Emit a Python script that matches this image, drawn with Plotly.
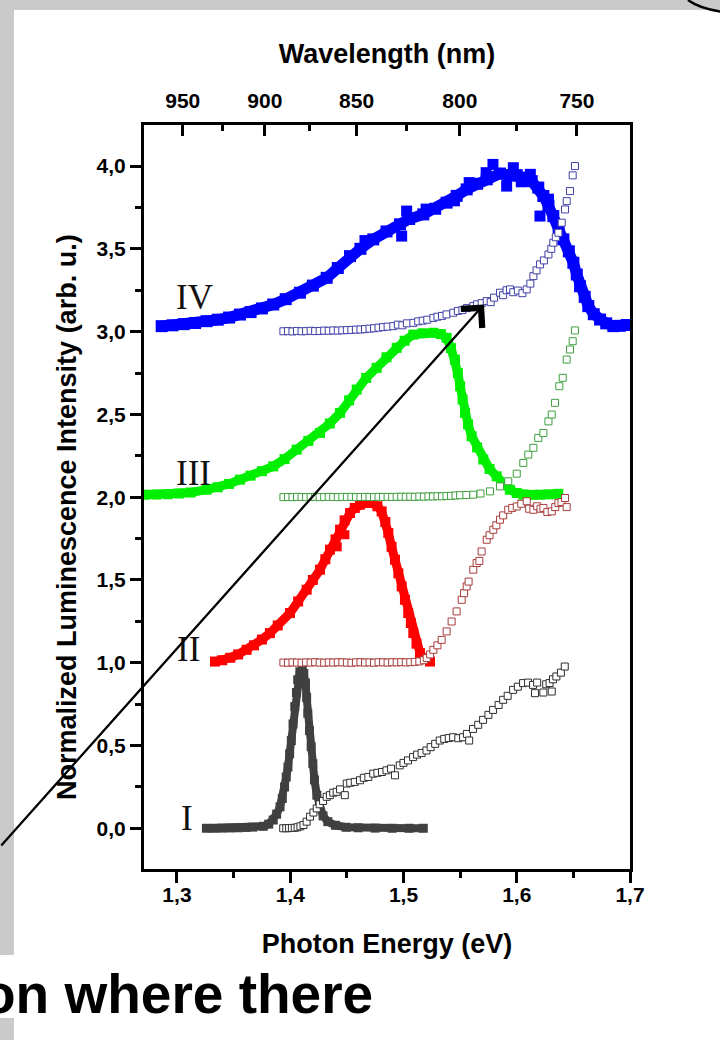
import plotly.graph_objects as go

# ---------------------------------------------------------------- data
# Photoluminescence spectra (filled squares) for samples I-IV
pl_I_E = [1.326, 1.333, 1.340, 1.347, 1.354, 1.361, 1.367, 1.3762, 1.381, 1.385, 1.388, 1.391,
          1.393, 1.395, 1.3965, 1.398, 1.3995, 1.401, 1.4025, 1.404, 1.4055, 1.4066, 1.4085,
          1.4106, 1.412, 1.4135, 1.4145, 1.4155, 1.417, 1.4185, 1.420, 1.4214, 1.4235, 1.4258,
          1.429, 1.4332, 1.440, 1.4494, 1.460, 1.475, 1.490, 1.505, 1.5175]
pl_I_Y = [0.0, 0.0, 0.001, 0.002, 0.003, 0.005, 0.007, 0.012, 0.025, 0.05, 0.085, 0.13,
          0.18, 0.25, 0.31, 0.37, 0.45, 0.53, 0.63, 0.735, 0.82, 0.897, 0.945,
          0.967, 0.935, 0.877, 0.79, 0.695, 0.59, 0.493, 0.39, 0.292, 0.20, 0.13,
          0.075, 0.04, 0.018, 0.006, 0.003, 0.001, 0.0, 0.0, 0.0]

pl_II_E = [1.3336, 1.340, 1.347, 1.354, 1.3615, 1.368, 1.375, 1.3821, 1.389, 1.3998, 1.407,
           1.4145, 1.420, 1.4263, 1.431, 1.4351, 1.440, 1.444, 1.448, 1.4528, 1.457,
           1.4616, 1.467, 1.4719, 1.477, 1.4807, 1.484, 1.4866, 1.4895, 1.4925, 1.4955,
           1.4984, 1.5013, 1.5042, 1.5065, 1.5087, 1.5115, 1.5146, 1.518, 1.5234]
pl_II_Y = [1.007, 1.015, 1.030, 1.050, 1.078, 1.105, 1.140, 1.179, 1.225, 1.300, 1.370,
           1.441, 1.500, 1.562, 1.625, 1.683, 1.745, 1.804, 1.860, 1.904, 1.935,
           1.955, 1.965, 1.965, 1.945, 1.914, 1.850, 1.784, 1.700, 1.622, 1.540,
           1.461, 1.380, 1.300, 1.240, 1.179, 1.115, 1.058, 1.025, 1.007]
# scattered points lying off the main II band
pl_II_noise_E = [1.4483, 1.4415]
pl_II_noise_Y = [1.773, 1.700]

pl_III_E = [1.2717, 1.282, 1.292, 1.302, 1.312, 1.3262, 1.336, 1.346, 1.3556, 1.365, 1.375,
            1.385, 1.395, 1.4057, 1.416, 1.4263, 1.435, 1.444, 1.452, 1.4587, 1.467, 1.4763,
            1.485, 1.494, 1.501, 1.5087, 1.517, 1.5264, 1.533, 1.5381, 1.542, 1.5455, 1.548,
            1.550, 1.5522, 1.5543, 1.557, 1.5602, 1.565, 1.5705, 1.576, 1.5823, 1.588, 1.594,
            1.600, 1.6058, 1.613, 1.6205, 1.628, 1.6367]
pl_III_Y = [2.015, 2.016, 2.018, 2.022, 2.028, 2.045, 2.060, 2.080, 2.106, 2.130, 2.157,
            2.186, 2.230, 2.287, 2.340, 2.388, 2.445, 2.509, 2.585, 2.650, 2.720, 2.781,
            2.845, 2.902, 2.945, 2.982, 2.990, 2.993, 2.985, 2.962, 2.900, 2.831, 2.750,
            2.670, 2.590, 2.509, 2.440, 2.368, 2.300, 2.227, 2.170, 2.126, 2.080, 2.045,
            2.025, 2.015, 2.014, 2.015, 2.017, 2.020]

pl_IV_E = [1.2865, 1.296, 1.306, 1.316, 1.3262, 1.336, 1.346, 1.3556, 1.365, 1.375, 1.385,
           1.396, 1.4086, 1.420, 1.4322, 1.442, 1.4528, 1.462, 1.4733, 1.485, 1.4969,
           1.505, 1.5175, 1.528, 1.5381, 1.547, 1.5558, 1.565, 1.5735, 1.5852,
           1.592, 1.600, 1.607, 1.6132, 1.619, 1.6235, 1.628, 1.6323, 1.637,
           1.6412, 1.646, 1.650, 1.653, 1.6559, 1.660, 1.6632, 1.668, 1.6736, 1.679, 1.6853,
           1.691, 1.6971]
pl_IV_Y = [3.033, 3.038, 3.045, 3.052, 3.063, 3.072, 3.085, 3.103, 3.118, 3.140, 3.164,
           3.196, 3.235, 3.278, 3.325, 3.384, 3.456, 3.500, 3.557, 3.605, 3.648,
           3.680, 3.708, 3.742, 3.779, 3.820, 3.859, 3.893, 3.920, 3.955,
           3.945, 3.945, 3.930, 3.909, 3.870, 3.819, 3.760, 3.698, 3.630,
           3.557, 3.485, 3.416, 3.345, 3.274, 3.210, 3.154, 3.105, 3.073, 3.050, 3.033,
           3.035, 3.040]
# scattered points lying off the main IV band
pl_IV_noise_E = [1.4984, 1.5028, 1.466, 1.520, 1.545, 1.558, 1.573, 1.579, 1.5911, 1.597,
                 1.604, 1.612, 1.6205, 1.628]
pl_IV_noise_Y = [3.577, 3.728, 3.550, 3.740, 3.790, 3.900, 3.960, 4.010, 3.879, 3.990,
                 3.905, 3.950, 3.698, 3.800]

# Excitation spectra (open squares) for samples I-IV
ex_I_E = [1.3938, 1.3965, 1.399, 1.4015, 1.404, 1.4065, 1.409, 1.4117, 1.4145, 1.4175, 1.4205,
          1.4234, 1.426, 1.429, 1.4322, 1.435, 1.438, 1.441, 1.444, 1.4482, 1.4499, 1.453,
          1.457, 1.4616, 1.465, 1.469, 1.4733, 1.477, 1.481, 1.485, 1.489, 1.4925, 1.4967,
          1.500, 1.504, 1.5085, 1.512, 1.516, 1.5203, 1.524, 1.528, 1.532, 1.536, 1.540,
          1.5438, 1.5484, 1.5526, 1.556, 1.558, 1.5614, 1.566, 1.5703, 1.575, 1.5791, 1.584,
          1.588, 1.592, 1.5968, 1.601, 1.6056, 1.610, 1.6144, 1.6161, 1.618, 1.6235, 1.626,
          1.629, 1.6309, 1.632, 1.635, 1.639, 1.6424]
ex_I_Y = [0.0, 0.0, 0.001, 0.002, 0.003, 0.006, 0.012, 0.020, 0.040, 0.070, 0.095,
          0.120, 0.145, 0.165, 0.190, 0.200, 0.215, 0.220, 0.235, 0.200, 0.270, 0.275,
          0.280, 0.290, 0.305, 0.310, 0.330, 0.335, 0.340, 0.350, 0.360, 0.320, 0.380,
          0.395, 0.410, 0.430, 0.445, 0.455, 0.470, 0.490, 0.510, 0.530, 0.540, 0.545,
          0.550, 0.544, 0.550, 0.570, 0.530, 0.600, 0.625, 0.655, 0.685, 0.715, 0.745,
          0.776, 0.800, 0.836, 0.855, 0.877, 0.880, 0.866, 0.816, 0.880, 0.820, 0.870,
          0.877, 0.826, 0.900, 0.917, 0.940, 0.977]

ex_II_E = [1.394, 1.398, 1.402, 1.406, 1.410, 1.414, 1.418, 1.422, 1.426, 1.430, 1.434,
           1.438, 1.442, 1.446, 1.450, 1.454, 1.458, 1.462, 1.466, 1.470, 1.474, 1.478,
           1.482, 1.486, 1.490, 1.494, 1.498, 1.502, 1.506, 1.510, 1.514, 1.518, 1.5205,
           1.5235, 1.5264, 1.530, 1.5337, 1.5381, 1.5425, 1.5469, 1.5514, 1.5535, 1.5558,
           1.5575, 1.5616, 1.5646, 1.567, 1.569, 1.5735, 1.576, 1.5793, 1.582, 1.5852,
           1.588, 1.5925, 1.596, 1.600, 1.604, 1.6088, 1.611, 1.6147, 1.618, 1.621, 1.6235,
           1.627, 1.6309, 1.634, 1.6368, 1.6395, 1.6426, 1.6441]
ex_II_Y = [1.001, 1.000, 1.002, 1.001, 1.000, 1.002, 1.001, 1.003, 1.001, 1.000, 1.002,
           1.001, 1.003, 1.002, 1.001, 1.000, 1.002, 1.003, 1.001, 1.002, 1.000, 1.003,
           1.002, 1.001, 1.003, 1.002, 1.004, 1.002, 1.003, 1.005, 1.008, 1.015, 1.028,
           1.050, 1.078, 1.105, 1.138, 1.189, 1.249, 1.310, 1.380, 1.420, 1.461,
           1.490, 1.562, 1.602, 1.615, 1.672, 1.743, 1.770, 1.803, 1.830, 1.864,
           1.890, 1.924, 1.935, 1.944, 1.960, 1.975, 1.930, 1.924, 1.945, 1.930, 1.935,
           1.910, 1.914, 1.940, 1.965, 1.970, 1.995, 1.940]

ex_III_E = [1.394, 1.398, 1.402, 1.406, 1.410, 1.414, 1.418, 1.422, 1.426, 1.430, 1.434,
            1.438, 1.442, 1.446, 1.450, 1.454, 1.458, 1.462, 1.466, 1.470, 1.474, 1.478,
            1.482, 1.486, 1.490, 1.494, 1.498, 1.502, 1.506, 1.510, 1.514, 1.518, 1.522,
            1.526, 1.530, 1.534, 1.538, 1.542, 1.546, 1.550, 1.5555, 1.5616, 1.568, 1.5764,
            1.5852, 1.5925, 1.600, 1.6058, 1.6102, 1.6147, 1.619, 1.6235, 1.628, 1.6309,
            1.6338, 1.6376, 1.6406, 1.6441, 1.647, 1.6494, 1.6514]
ex_III_Y = [2.000, 2.001, 2.000, 2.002, 2.001, 2.000, 2.001, 2.002, 2.000, 2.001, 2.002,
            2.001, 2.000, 2.002, 2.001, 2.002, 2.000, 2.001, 2.002, 2.001, 2.000, 2.002,
            2.001, 2.002, 2.001, 2.002, 2.003, 2.002, 2.003, 2.002, 2.004, 2.003, 2.005,
            2.004, 2.006, 2.005, 2.007, 2.008, 2.010, 2.012, 2.013, 2.015, 2.022, 2.035,
            2.065, 2.096, 2.142, 2.207, 2.257, 2.298, 2.358, 2.388, 2.458, 2.499,
            2.570, 2.670, 2.721, 2.831, 2.892, 2.942, 3.007]

ex_IV_E = [1.394, 1.398, 1.402, 1.406, 1.410, 1.414, 1.418, 1.422, 1.426, 1.430, 1.434,
           1.438, 1.442, 1.446, 1.450, 1.454, 1.458, 1.462, 1.466, 1.470, 1.474, 1.478,
           1.482, 1.486, 1.491, 1.495, 1.499, 1.503, 1.5087, 1.513, 1.517, 1.521, 1.5264,
           1.530, 1.534, 1.538, 1.544, 1.548, 1.552, 1.556, 1.5616, 1.565, 1.569, 1.5735,
           1.577, 1.580, 1.5852, 1.588, 1.591, 1.594, 1.597, 1.601, 1.605, 1.6088, 1.612,
           1.6147, 1.6175, 1.6206, 1.624, 1.628, 1.6305, 1.6323, 1.6345, 1.6368, 1.6397,
           1.6426, 1.6441, 1.647, 1.6494, 1.6514]
ex_IV_Y = [3.002, 3.003, 3.001, 3.004, 3.002, 3.003, 3.005, 3.003, 3.004, 3.006, 3.005,
           3.007, 3.006, 3.008, 3.009, 3.010, 3.012, 3.013, 3.015, 3.018, 3.020, 3.024,
           3.027, 3.030, 3.033, 3.042, 3.038, 3.050, 3.053, 3.062, 3.066, 3.072, 3.083,
           3.090, 3.095, 3.104, 3.114, 3.125, 3.130, 3.142, 3.154, 3.165, 3.172, 3.184,
           3.178, 3.205, 3.235, 3.220, 3.250, 3.255, 3.238, 3.248, 3.232, 3.255, 3.290,
           3.335, 3.370, 3.406, 3.430, 3.466, 3.500, 3.537, 3.570, 3.597, 3.658,
           3.738, 3.788, 3.849, 3.944, 4.000]

# Secondary (top) axis: wavelength labels in nm
wl_major = [950, 900, 850, 800, 750]
wl_minor = [925, 875, 825, 775]
HC = 1239.84  # eV*nm

sample_labels = ["I", "II", "III", "IV"]

# ---------------------------------------------------------------- styling
W, H = 720, 1040
L, R, T, B = 144, 90, 125, 171
PW, PH = W - L - R, H - T - B
X_RANGE = [1.2709, 1.7]
Y_RANGE = [-0.246, 4.248]
SANS = "Liberation Sans"
SERIF = "Liberation Serif"


def pxx(p):
    return (p - L) / PW


def pxy(p):
    return (H - B - p) / PH


fig = go.Figure()

pl_sets = [
    (pl_I_E, pl_I_Y, [], [], "#404040", 8),
    (pl_II_E, pl_II_Y, pl_II_noise_E, pl_II_noise_Y, "#ff0000", 9),
    (pl_III_E, pl_III_Y, [], [], "#00ee00", 9),
    (pl_IV_E, pl_IV_Y, pl_IV_noise_E, pl_IV_noise_Y, "#0000ff", 11),
]
for xs, ys, nx, ny, col, w in pl_sets:
    fig.add_trace(go.Scatter(
        x=xs, y=ys, mode="lines+markers",
        line=dict(color=col, width=w),
        marker=dict(symbol="square", size=w + 1, color=col),
        showlegend=False, hoverinfo="skip"))
    if nx:
        fig.add_trace(go.Scatter(
            x=nx, y=ny, mode="markers",
            marker=dict(symbol="square", size=w, color=col),
            showlegend=False, hoverinfo="skip"))

ex_sets = [
    (ex_I_E, ex_I_Y, "#2e2e2e"),
    (ex_II_E, ex_II_Y, "#a83c3c"),
    (ex_III_E, ex_III_Y, "#3f9f3f"),
    (ex_IV_E, ex_IV_Y, "#4040a8"),
]
for xs, ys, col in ex_sets:
    fig.add_trace(go.Scatter(
        x=xs, y=ys, mode="markers",
        marker=dict(symbol="square", size=7, color="white",
                    line=dict(color=col, width=1)),
        showlegend=False, hoverinfo="skip"))

# empty trace so the top wavelength axis gets its own subplot
fig.add_trace(go.Scatter(x=[], y=[], xaxis="x2", showlegend=False))

tickfont = dict(family=SANS, size=21, color="black", weight="bold")
titlefont = dict(family=SANS, size=27, color="black", weight="bold")

fig.update_layout(
    width=W, height=H,
    margin=dict(l=L, r=R, t=T, b=B, pad=0),
    paper_bgcolor="#cacaca",
    plot_bgcolor="white",
    separators=",.",
    xaxis=dict(
        range=X_RANGE, showgrid=False, zeroline=False,
        showline=True, linecolor="black", linewidth=3,
        ticks="outside", ticklen=11, tickwidth=2.5, tickcolor="black",
        tick0=1.3, dtick=0.1, tickformat=".1f", tickfont=tickfont,
        ticklabelstandoff=-6,
        minor=dict(ticks="outside", ticklen=6, tickwidth=2.5, tickcolor="black",
                   tick0=1.3, dtick=0.05),
        title=dict(text="Photon Energy (eV)", font=titlefont, standoff=29),
    ),
    xaxis2=dict(
        overlaying="x", side="top", range=X_RANGE, showgrid=False, zeroline=False,
        showline=True, linecolor="black", linewidth=3,
        ticks="inside", ticklen=11, tickwidth=2.5, tickcolor="black",
        tickmode="array", tickvals=[HC / w for w in wl_major],
        ticktext=[str(w) for w in wl_major], tickfont=tickfont,
        ticklabelstandoff=6,
        minor=dict(ticks="inside", ticklen=6, tickwidth=2.5, tickcolor="black",
                   tickvals=[HC / w for w in wl_minor]),
        title=dict(text="Wavelength (nm)", font=titlefont, standoff=18),
    ),
    yaxis=dict(
        range=Y_RANGE, showgrid=False, zeroline=False,
        showline=True, linecolor="black", linewidth=3, mirror=True,
        ticks="outside", ticklen=11, tickwidth=2.5, tickcolor="black",
        tick0=0, dtick=0.5, tickformat=".1f", tickfont=tickfont,
        minor=dict(ticks="outside", ticklen=6, tickwidth=2.5, tickcolor="black",
                   tick0=0, dtick=0.25),
    ),
)

# slide background: white page with grey border strips
fig.add_shape(type="rect", xref="paper", yref="paper", layer="below",
              x0=pxx(14), x1=pxx(730), y0=pxy(10), y1=pxy(1050),
              fillcolor="white", line=dict(width=0))
fig.add_shape(type="rect", xref="paper", yref="paper", layer="below",
              x0=pxx(-10), x1=pxx(400), y0=pxy(955), y1=pxy(1018),
              fillcolor="white", line=dict(width=0))
# corner of a neighbouring drawing at the top right
fig.add_shape(type="path", xref="paper", yref="paper",
              path="M {:.4f} {:.4f} Q {:.4f} {:.4f} {:.4f} {:.4f}".format(
                  pxx(688), pxy(0), pxx(700), pxy(9), pxx(724), pxy(12)),
              line=dict(color="black", width=2.5))

# y axis title
fig.add_annotation(xref="paper", yref="paper", x=pxx(67), y=pxy(517),
                   xanchor="center", yanchor="middle",
                   text="Normalized Luminescence Intensity (arb. u.)", textangle=-90,
                   showarrow=False, font=titlefont)

# sample labels
label_pos = [(1.3093, 0.062), (1.3104, 1.078), (1.3150, 2.142), (1.3159, 3.206)]
for txt, (lx, ly) in zip(sample_labels, label_pos):
    fig.add_annotation(x=lx, y=ly, xref="x", yref="y", text=txt, showarrow=False,
                       font=dict(family=SERIF, size=35, color="#111111"))

# arrow across the panel
fig.add_annotation(x=1.5711, y=3.164, xref="x", yref="y",
                   ax=1.1437, ay=-0.113, axref="x", ayref="y",
                   text="", showarrow=True, arrowhead=4, arrowsize=2.4,
                   arrowwidth=2.3, arrowcolor="black")

# slide text below the chart
fig.add_annotation(xref="paper", yref="paper", x=pxx(375), y=pxy(994),
                   xanchor="right", yanchor="middle", text="on where there",
                   showarrow=False,
                   font=dict(family=SANS, size=55, color="black", weight="bold"))

fig.write_html("out.html")
